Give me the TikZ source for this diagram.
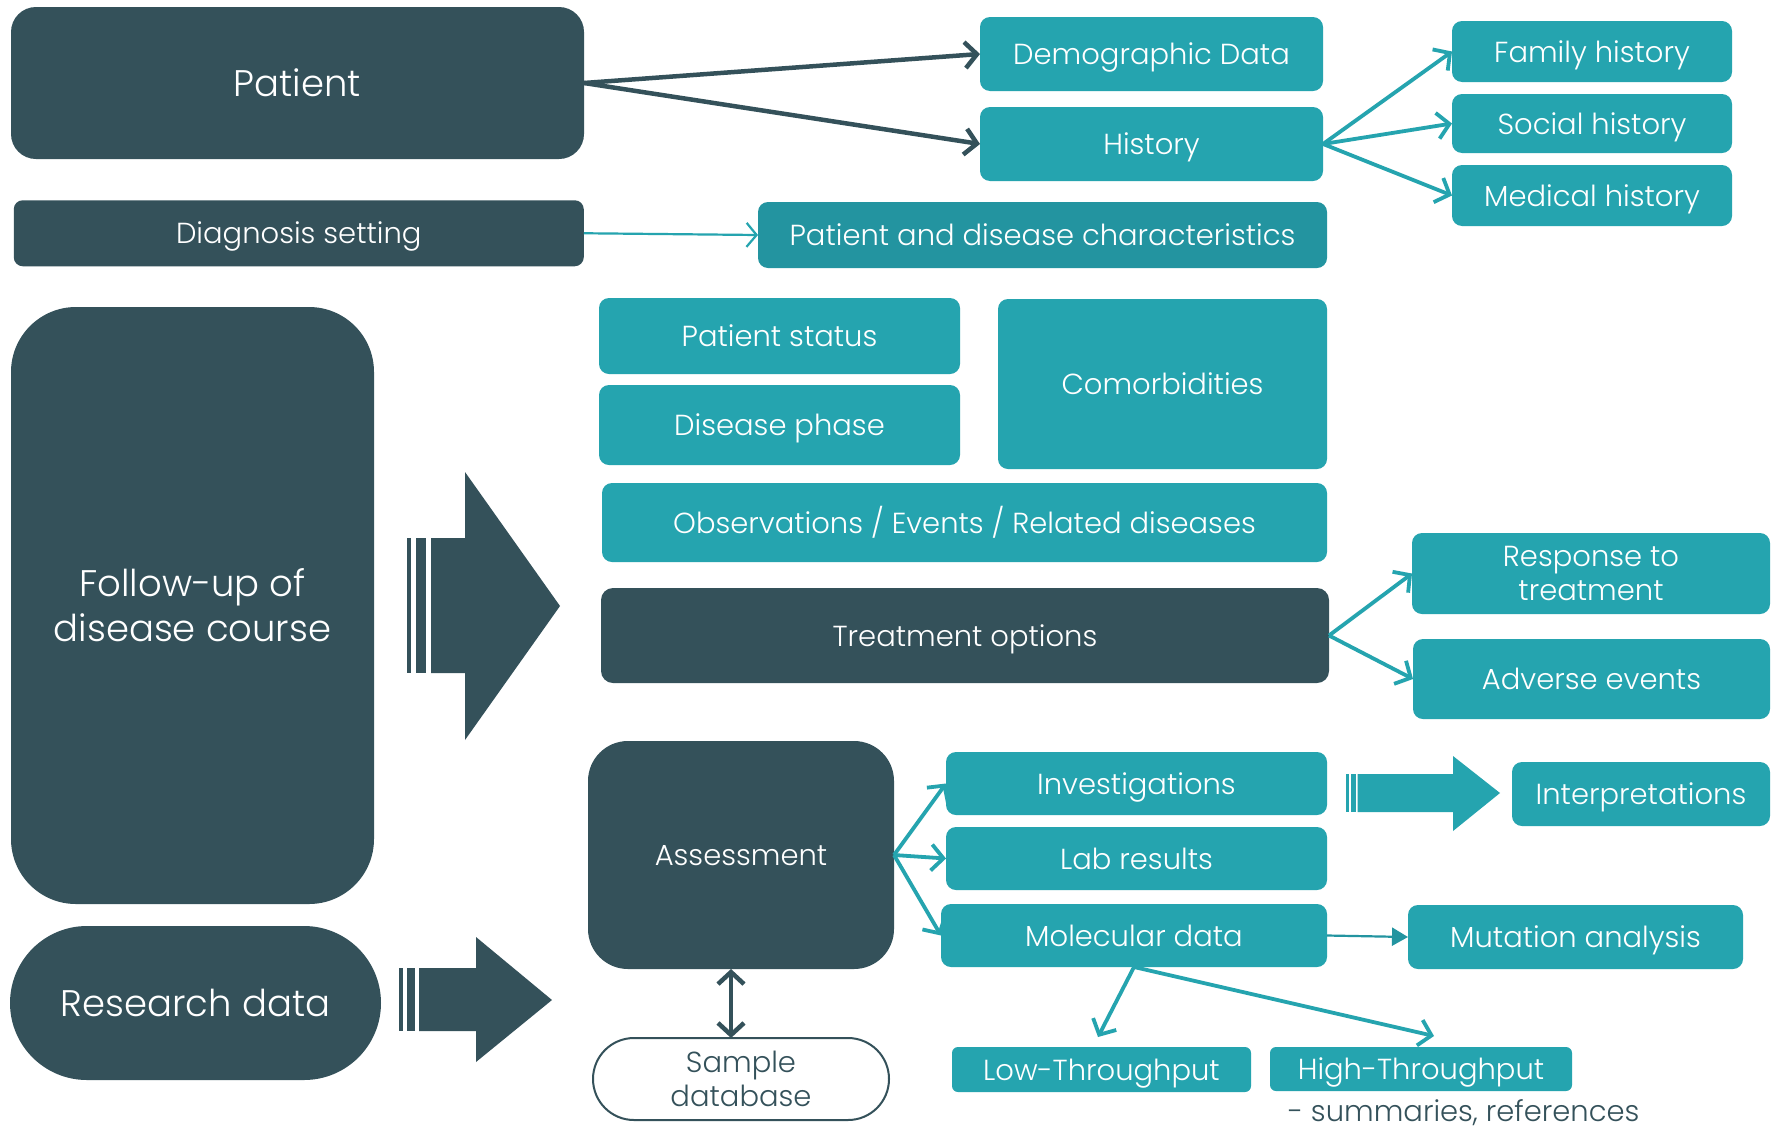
\documentclass[tikz,border=0pt]{standalone}
\usepackage{fontspec}
\setmainfont{Poppins}[UprightFont={* Light}]
\usetikzlibrary{arrows.meta}
\definecolor{dk}{HTML}{34515A}
\definecolor{tl}{HTML}{25A4AF}
\definecolor{tlb}{HTML}{2394A0}
\begin{document}
\begin{tikzpicture}[x=1pt,y=-1pt,
  every node/.style={inner sep=0pt, outer sep=0pt},
  base/.style={rectangle, rounded corners=10pt, text=white, align=center, font=\fontsize{29}{34}\selectfont},
  one/.style={text height=21pt, text depth=0pt},
  onebig/.style={text height=26pt, text depth=0pt, font=\fontsize{37}{44}\selectfont},
  tbox/.style={base, one, fill=tl},
  dbox/.style={base, one, fill=dk},
  tboxm/.style={base, fill=tl},
  dboxm/.style={base, fill=dk},
  darr/.style={draw=dk, line width=4.5pt, -{Straight Barb[length=12pt,width=26pt]}},
  tarr/.style={draw=tl, line width=3.8pt, -{Straight Barb[length=12pt,width=26pt]}},
  thinarr/.style={draw=tl, line width=2.2pt, -{Straight Barb[length=10pt,width=24pt]}},
  fillarr/.style={draw=tlb, line width=2.2pt, -{Triangle[length=16pt,width=18pt]}},
  big/.style={fill=dk},
  bigt/.style={fill=tl}]
\useasboundingbox (0,0) rectangle (1771,1130);
\fill[white] (0,0) rectangle (1771,1130);

% left column
\node[dbox, onebig, rounded corners=25pt, minimum width=573pt, minimum height=152pt] (patient) at (297.5,83) {Patient};
\node[dbox, rounded corners=9pt, minimum width=570pt, minimum height=66pt] (diag) at (298.75,233.25) {Diagnosis setting};
\node[dboxm, rounded corners=65pt, minimum width=363pt, minimum height=597pt, font=\fontsize{37}{45}\selectfont] (follow) at (192.5,605.5) {Follow-up of\\disease course};
\node[dbox, onebig, rounded corners=77pt, minimum width=371pt, minimum height=154pt] (research) at (195.5,1003) {Research data};

% top right
\node[tbox, minimum width=343pt, minimum height=74pt] (demo) at (1151.5,54) {Demographic Data};
\node[tbox, minimum width=343pt, minimum height=74pt] (hist) at (1151.5,144) {History};
\node[tbox, minimum width=280pt, minimum height=61pt] (fam) at (1592,51.5) {Family history};
\node[tbox, minimum width=280pt, minimum height=59pt] (soc) at (1592,123.5) {Social history};
\node[tbox, minimum width=280pt, minimum height=61pt] (med) at (1592,195.5) {Medical history};
\node[base, one, fill=tlb, minimum width=569pt, minimum height=66pt] (pdc) at (1042.5,235) {Patient and disease characteristics};

% middle
\node[tbox, minimum width=361pt, minimum height=76pt] (pstat) at (779.5,336) {Patient status};
\node[tbox, minimum width=361pt, minimum height=80pt] (dphase) at (779.5,425) {Disease phase};
\node[tbox, minimum width=329pt, minimum height=170pt] (comorb) at (1162.5,384) {Comorbidities};
\node[tbox, minimum width=725pt, minimum height=79pt] (obs) at (964.5,522.5) {Observations / Events / Related diseases};
\node[dbox, rounded corners=12pt, minimum width=728pt, minimum height=95pt] (treat) at (965,635.5) {Treatment options};
\node[tboxm, minimum width=358pt, minimum height=81pt] (resp) at (1591,573.5) {Response to\\treatment};
\node[tbox, minimum width=357pt, minimum height=80pt] (adv) at (1591.5,679) {Adverse events};

% bottom
\node[dbox, rounded corners=40pt, minimum width=306pt, minimum height=228pt] (assess) at (741,855) {Assessment};
\node[tbox, minimum width=381pt, minimum height=63pt] (inv) at (1136.5,783.5) {Investigations};
\node[tbox, minimum width=381pt, minimum height=63pt] (lab) at (1136.5,858.5) {Lab results};
\node[tbox, minimum width=386pt, minimum height=63pt] (mol) at (1134,935.5) {Molecular data};
\node[tbox, minimum width=258pt, minimum height=64pt] (interp) at (1641,794) {Interpretations};
\node[tbox, minimum width=335pt, minimum height=64pt] (mut) at (1575.5,937) {Mutation analysis};
\node[base, fill=white, draw=dk, line width=2pt, text=dk, rounded corners=41pt, minimum width=296pt, minimum height=82pt] (sample) at (741,1079) {Sample\\database};
\node[tbox, rounded corners=6pt, minimum width=299pt, minimum height=45pt] (low) at (1101.5,1069.5) {Low-Throughput};
\node[tbox, rounded corners=6pt, minimum width=302pt, minimum height=44pt] (high) at (1421,1069) {High-Throughput};
\node[anchor=west, text=dk, font=\fontsize{29}{34}\selectfont] (summ) at (1288,1113) {- summaries, references};

\coordinate (lowtip) at (1098,1037);
\coordinate (hightip) at (1434,1036);

% big arrows
\fill[big] (407,538) rectangle (411,673);
\fill[big] (416,538) rectangle (426,673);
\fill[big] (431,538) -- (465,538) -- (465,472) -- (560,606) -- (465,740) -- (465,673) -- (431,673) -- cycle;
\fill[big] (399,968) rectangle (403,1031);
\fill[big] (407,968) rectangle (415,1031);
\fill[big] (419,968) -- (476,968) -- (476,937) -- (552,1000) -- (476,1062) -- (476,1031) -- (419,1031) -- cycle;
\fill[bigt] (1346,774) rectangle (1349,812);
\fill[bigt] (1351,774) rectangle (1355.5,812);
\fill[bigt] (1357.5,774) -- (1453,774) -- (1453,756) -- (1500,793) -- (1453,831) -- (1453,812) -- (1357.5,812) -- cycle;

% connectors
\draw[darr] (patient.east) -- (demo.west);
\draw[darr] (patient.east) -- (hist.west);
\draw[tarr] (hist.east) -- (fam.west);
\draw[tarr] (hist.east) -- (soc.west);
\draw[tarr] (hist.east) -- (med.west);
\draw[thinarr] (diag.east) -- (pdc.west);
\draw[tarr] (treat.east) -- (resp.west);
\draw[tarr] (treat.east) -- (adv.west);
\draw[tarr] (assess.east) -- (inv.west);
\draw[tarr] (assess.east) -- (lab.west);
\draw[tarr] (assess.east) -- (mol.west);
\draw[fillarr] (mol.east) -- (mut.west);
\draw[tarr] (mol.south) -- (lowtip);
\draw[tarr] (mol.south) -- (hightip);
\draw[draw=dk, line width=4.5pt, {Straight Barb[length=12pt,width=26pt]}-{Straight Barb[length=12pt,width=26pt]}] ([xshift=-10pt]assess.south) -- ([xshift=-10pt]sample.north);
\end{tikzpicture}
\end{document}
